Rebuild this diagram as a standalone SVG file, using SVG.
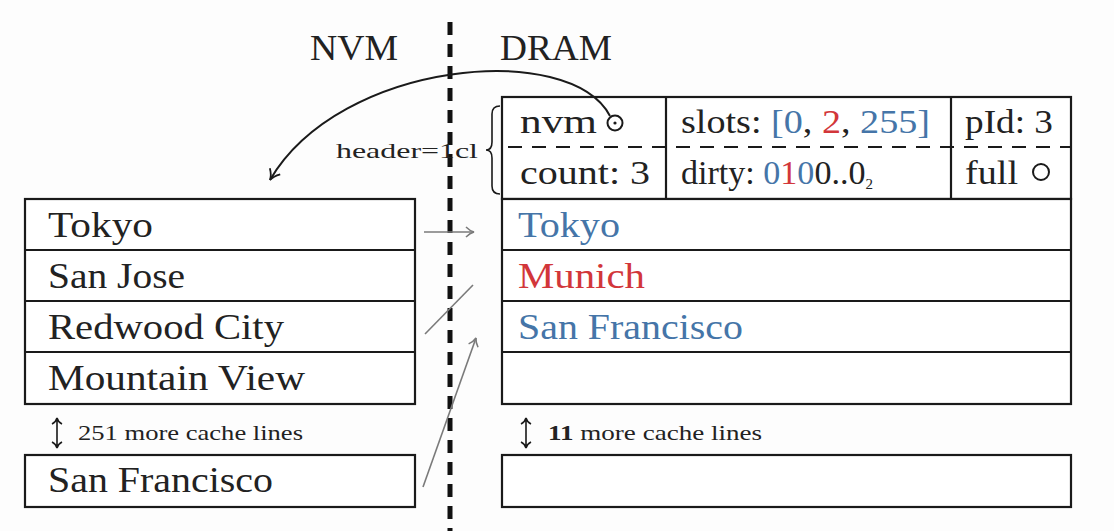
<svg xmlns="http://www.w3.org/2000/svg" width="1114" height="531" viewBox="0 0 1114 531">
  <defs>
    <style>
      .bg { fill: #fdfdfd; }
      .box { fill: #ffffff; stroke: #1a1a1a; stroke-width: 2.2; }
      .sep { stroke: #1a1a1a; stroke-width: 2.2; }
      .t { font-family: "Liberation Serif", "DejaVu Serif", serif; fill: #222; }
      .big { font-size: 36px; }
      .hd { font-size: 34px; }
      .sm { font-size: 21px; }
      .blue { fill: #4575a8; }
      .red { fill: #d2363a; }
      .link { fill: none; stroke: #7a7a7a; stroke-width: 1.6; }
      .dbl { fill: none; stroke: #1a1a1a; stroke-width: 1.6; }
    </style>
    <marker id="open" viewBox="0 0 12 12" refX="10" refY="6" markerWidth="12" markerHeight="12" markerUnits="userSpaceOnUse" orient="auto">
      <path d="M2 1 Q6 5 10 6 Q6 7 2 11" fill="none" stroke="#7a7a7a" stroke-width="1.5"/>
    </marker>
    <marker id="openk" viewBox="0 0 14 14" refX="12" refY="7" markerWidth="14" markerHeight="14" markerUnits="userSpaceOnUse" orient="auto">
      <path d="M2 1 Q7 6 12 7 Q7 8 2 13" fill="none" stroke="#1a1a1a" stroke-width="1.8"/>
    </marker>
  </defs>

  <rect class="bg" x="0" y="0" width="1114" height="531"/>

  <!-- memory boundary -->
  <line x1="450" y1="22" x2="450" y2="531" stroke="#111" stroke-width="5" stroke-dasharray="13 9"/>
  <text class="t big" x="310" y="60" textLength="88" lengthAdjust="spacingAndGlyphs">NVM</text>
  <text class="t big" x="500" y="60" textLength="112" lengthAdjust="spacingAndGlyphs">DRAM</text>

  <!-- NVM page -->
  <g id="nvm-page">
    <rect class="box" x="25" y="199" width="390" height="205"/>
    <line class="sep" x1="25" y1="250" x2="415" y2="250"/>
    <line class="sep" x1="25" y1="301" x2="415" y2="301"/>
    <line class="sep" x1="25" y1="352" x2="415" y2="352"/>
    <text class="t big" x="48" y="237" textLength="105" lengthAdjust="spacingAndGlyphs">Tokyo</text>
    <text class="t big" x="48" y="288" textLength="137" lengthAdjust="spacingAndGlyphs">San Jose</text>
    <text class="t big" x="48" y="339" textLength="236" lengthAdjust="spacingAndGlyphs">Redwood City</text>
    <text class="t big" x="48" y="390" textLength="257" lengthAdjust="spacingAndGlyphs">Mountain View</text>
  </g>
  <g id="nvm-more">
    <path class="dbl" d="M57 419 L57 447 M52 424 Q56 422 57 418 Q58 422 62 424 M52 442 Q56 444 57 448 Q58 444 62 442"/>
    <text class="t sm" x="78" y="440" textLength="225" lengthAdjust="spacingAndGlyphs">251 more cache lines</text>
  </g>
  <g id="nvm-last">
    <rect class="box" x="25" y="455" width="390" height="52"/>
    <text class="t big" x="48" y="492" textLength="225" lengthAdjust="spacingAndGlyphs">San Francisco</text>
  </g>

  <!-- DRAM page -->
  <g id="dram-header">
    <rect class="box" x="502" y="97" width="569" height="102"/>
    <line x1="502" y1="147" x2="1071" y2="147" stroke="#1a1a1a" stroke-width="2" stroke-dasharray="14 10" stroke-dashoffset="-6"/>
    <line class="sep" x1="666" y1="97" x2="666" y2="199"/>
    <line class="sep" x1="951" y1="97" x2="951" y2="199"/>
    <text class="t hd" x="520" y="133" textLength="77" lengthAdjust="spacingAndGlyphs">nvm</text>
    <circle cx="615" cy="123" r="7.5" fill="none" stroke="#1a1a1a" stroke-width="2"/>
    <circle cx="615" cy="123" r="1.6" fill="#1a1a1a"/>
    <text class="t hd" x="520" y="184" textLength="130" lengthAdjust="spacingAndGlyphs">count: 3</text>
    <text class="t hd" x="681" y="133" textLength="249" lengthAdjust="spacingAndGlyphs">slots: <tspan class="blue">[0</tspan>, <tspan class="red">2</tspan>, <tspan class="blue">255]</tspan></text>
    <text class="t hd" x="681" y="184" textLength="192" lengthAdjust="spacingAndGlyphs">dirty: <tspan class="blue">0</tspan><tspan class="red">1</tspan><tspan class="blue">0</tspan>0..0<tspan font-size="15" dy="5">2</tspan></text>
    <text class="t hd" x="965" y="133" textLength="88" lengthAdjust="spacingAndGlyphs">pId: 3</text>
    <text class="t hd" x="965" y="184" textLength="53" lengthAdjust="spacingAndGlyphs">full</text>
    <circle cx="1041" cy="172" r="8" fill="none" stroke="#1a1a1a" stroke-width="2"/>
  </g>
  <g id="header-label">
    <text class="t sm" x="336" y="158" textLength="142" lengthAdjust="spacingAndGlyphs">header=1cl</text>
    <path d="M500 106 Q492 106 492 114 L492 142 Q492 150 486 150 Q492 150 492 158 L492 186 Q492 194 500 194" fill="none" stroke="#1a1a1a" stroke-width="1.6"/>
  </g>
  <g id="dram-page">
    <rect class="box" x="502" y="199" width="569" height="205"/>
    <line class="sep" x1="502" y1="250" x2="1071" y2="250"/>
    <line class="sep" x1="502" y1="301" x2="1071" y2="301"/>
    <line class="sep" x1="502" y1="352" x2="1071" y2="352"/>
    <text class="t big blue" x="518" y="237" textLength="102" lengthAdjust="spacingAndGlyphs">Tokyo</text>
    <text class="t big red" x="518" y="288" textLength="127" lengthAdjust="spacingAndGlyphs">Munich</text>
    <text class="t big blue" x="518" y="339" textLength="225" lengthAdjust="spacingAndGlyphs">San Francisco</text>
  </g>
  <g id="dram-more">
    <path class="dbl" d="M526 419 L526 447 M521 424 Q525 422 526 418 Q527 422 531 424 M521 442 Q525 444 526 448 Q527 444 531 442"/>
    <text class="t sm" x="548" y="440" textLength="214" lengthAdjust="spacingAndGlyphs"><tspan font-weight="bold">11</tspan> more cache lines</text>
  </g>
  <g id="dram-last">
    <rect class="box" x="502" y="455" width="569" height="52"/>
  </g>

  <!-- connectors -->
  <g id="connectors">
    <path d="M610 116 C570 40 340 60 270 180" fill="none" stroke="#1a1a1a" stroke-width="2" marker-end="url(#openk)"/>
    <line class="link" x1="424" y1="232" x2="474" y2="232" marker-end="url(#open)"/>
    <line class="link" x1="425" y1="334" x2="473" y2="285"/>
    <line class="link" x1="423" y1="487" x2="476" y2="338" marker-end="url(#open)"/>
  </g>
</svg>
